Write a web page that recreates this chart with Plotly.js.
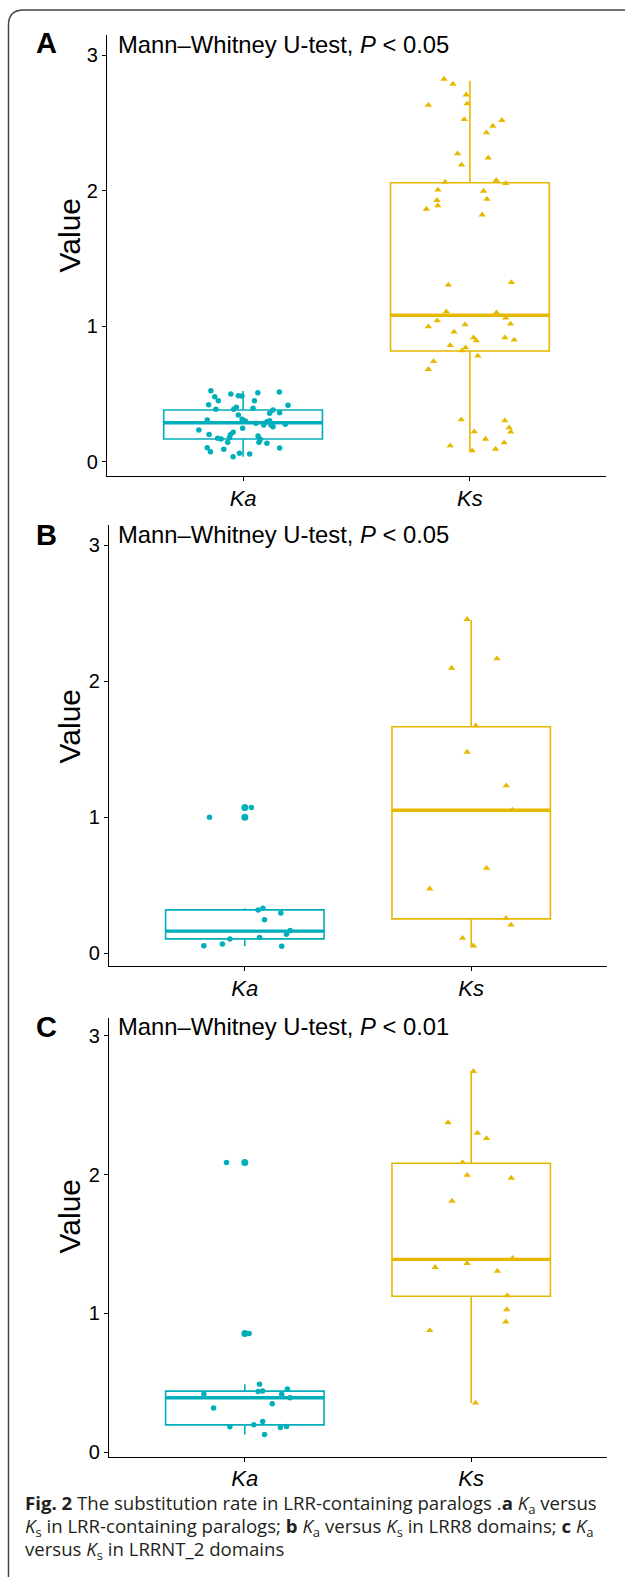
<!DOCTYPE html>
<html>
<head>
<meta charset="utf-8">
<script src="https://cdn.plot.ly/plotly-3.0.1.min.js"></script>
<style>html,body{margin:0;padding:0;background:#fff;}#chart{width:625px;height:1577px;}</style>
</head>
<body>
<div id="chart"></div>
<script>
// ---------- DATA ----------
const categories = ['Ka', 'Ks'];
const panelLabels = ['A', 'B', 'C'];
const testTitles = ['Mann–Whitney U-test, <i>P</i> &lt; 0.05', 'Mann–Whitney U-test, <i>P</i> &lt; 0.05', 'Mann–Whitney U-test, <i>P</i> &lt; 0.01'];
const yTicks = [0, 1, 2, 3];

// Panel A
const A_ka_jitter = [-0.142,-0.054,-0.021,-0.005,0.065,0.16,-0.125,-0.109,-0.152,-0.12,-0.03,-0.041,0.05,0.044,0.198,0.132,0.161,0.117,-0.021,-0.004,0.01,-0.158,0.057,0.091,0.105,0.117,0.123,0.132,0.186,-0.002,-0.195,-0.15,-0.044,-0.056,-0.112,-0.097,-0.06,-0.068,0.066,0.076,0.07,0.105,-0.158,-0.144,-0.085,0.161,-0.016,0.029,-0.044];
const A_ka_values = [0.522,0.498,0.486,0.483,0.508,0.513,0.478,0.449,0.419,0.385,0.400,0.385,0.449,0.393,0.415,0.380,0.360,0.356,0.343,0.311,0.299,0.306,0.282,0.269,0.294,0.301,0.269,0.257,0.275,0.245,0.232,0.200,0.215,0.198,0.171,0.166,0.176,0.142,0.188,0.164,0.142,0.134,0.102,0.072,0.090,0.100,0.060,0.055,0.035];
const A_ks_jitter = [-0.114,-0.075,-0.016,-0.183,-0.012,-0.025,0.141,0.101,0.073,-0.054,0.081,-0.037,-0.109,0.116,0.158,-0.141,0.06,-0.145,0.075,-0.142,-0.192,0.054,-0.095,0.183,-0.104,0.117,0.158,-0.144,-0.183,-0.021,0.179,-0.07,0.016,0.028,0.154,0.195,-0.087,-0.019,-0.035,0.035,-0.16,-0.183,-0.038,0.154,0.173,0.18,0.019,0.069,0.151,-0.087,0.113,0.01];
const A_ks_values = [2.823,2.786,2.707,2.631,2.641,2.525,2.518,2.476,2.427,2.272,2.242,2.190,2.063,2.075,2.053,2.004,1.996,1.928,1.937,1.888,1.863,1.821,1.303,1.322,1.106,1.098,1.061,1.039,0.995,1.010,1.015,0.956,0.914,0.892,0.914,0.897,0.857,0.840,0.818,0.779,0.739,0.680,0.309,0.301,0.250,0.218,0.220,0.166,0.139,0.117,0.092,0.080];
const A_q1 = [0.166, 0.816];
const A_median = [0.286, 1.079];
const A_q3 = [0.380, 2.058];
const A_lower = [0.035, 0.070];
const A_upper = [0.520, 2.810];
const A_ka_outliers = [];

// Panel B
const B_ka_jitter = [0.059,0.08,0.159,0.087,0.2,0.184,-0.066,0.065,-0.181,-0.099,0.163,-0.156,0.029];
const B_ka_values = [0.319,0.332,0.297,0.246,0.168,0.141,0.106,0.116,0.055,0.068,0.053,1.000,1.071];
const B_ks_jitter = [-0.018,0.114,-0.086,0.02,-0.018,0.155,0.182,0.068,-0.183,0.154,0.176,-0.038,0.01];
const B_ks_values = [2.454,2.165,2.096,1.673,1.479,1.232,1.054,0.626,0.474,0.258,0.209,0.111,0.055];
const B_q1 = [0.106, 0.253];
const B_median = [0.163, 1.051];
const B_q3 = [0.319, 1.665];
const B_lower = [0.053, 0.055];
const B_upper = [0.332, 2.449];
const B_ka_outliers = [1.071, 1.000];

// Panel C
const C_ka_jitter = [0.065,0.188,0.059,0.079,-0.181,0.163,0.2,0.121,-0.138,0.079,0.04,-0.066,0.157,0.184,0.087,-0.081,0.019];
const C_ka_values = [0.489,0.454,0.437,0.441,0.418,0.416,0.391,0.348,0.318,0.220,0.196,0.182,0.177,0.184,0.127,2.088,0.854];
const C_ks_jitter = [0.01,-0.102,0.028,0.068,-0.038,-0.018,0.177,-0.085,0.183,-0.018,-0.159,0.116,0.16,0.157,0.153,-0.183,0.019];
const C_ks_values = [2.745,2.375,2.299,2.261,2.088,1.996,1.975,1.809,1.398,1.361,1.332,1.304,1.127,1.027,0.939,0.877,0.354];
const C_q1 = [0.196, 1.123];
const C_median = [0.391, 1.389];
const C_q3 = [0.439, 2.082];
const C_lower = [0.127, 0.354];
const C_upper = [0.489, 2.745];
const C_ka_outliers = [2.088, 0.854];

// ---------- STYLE / LAYOUT ----------
const W = 625, H = 1577;
const FONT = 'Liberation Sans, Arial, Helvetica, sans-serif';
const CAPFONT = 'Open Sans, Noto Sans, sans-serif';
const COLORS = ['#00AFBB', '#E7B800'];
const BOXW = 0.7;
const px = p => p / W;
const py = p => 1 - p / H;

const panels = [
  {xa:'x',  ya:'y',  kaJ:A_ka_jitter, kaV:A_ka_values, ksJ:A_ks_jitter, ksV:A_ks_values, q1:A_q1, med:A_median, q3:A_q3, lo:A_lower, hi:A_upper, out:A_ka_outliers,
   xdom:[107,606], ydom:[35,476], yr:[-0.107,3.148], titleY:45, labelY:43, valueY:235},
  {xa:'x2', ya:'y2', kaJ:B_ka_jitter, kaV:B_ka_values, ksJ:B_ks_jitter, ksV:B_ks_values, q1:B_q1, med:B_median, q3:B_q3, lo:B_lower, hi:B_upper, out:B_ka_outliers,
   xdom:[109,607], ydom:[525,966], yr:[-0.093,3.147], titleY:534.5, labelY:535, valueY:726},
  {xa:'x3', ya:'y3', kaJ:C_ka_jitter, kaV:C_ka_values, ksJ:C_ks_jitter, ksV:C_ks_values, q1:C_q1, med:C_median, q3:C_q3, lo:C_lower, hi:C_upper, out:C_ka_outliers,
   xdom:[109,607], ydom:[1018,1456.5], yr:[-0.032,3.129], titleY:1026, labelY:1027, valueY:1216}
];

const traces = [];
const layout = {
  width: W, height: H,
  margin: {l:0, r:0, t:0, b:0},
  paper_bgcolor: '#fff', plot_bgcolor: '#fff',
  showlegend: false,
  font: {family: FONT, color: '#000'},
  annotations: [], shapes: []
};

panels.forEach((p, i) => {
  categories.forEach((c, k) => {
    traces.push({
      type: 'box', xaxis: p.xa, yaxis: p.ya,
      x: [k], q1: [p.q1[k]], median: [p.med[k]], q3: [p.q3[k]],
      lowerfence: [p.lo[k]], upperfence: [p.hi[k]],
      width: BOXW, whiskerwidth: 0, boxpoints: false,
      line: {color: COLORS[k], width: 1.6},
      fillcolor: 'rgba(255,255,255,0)', hoverinfo: 'skip'
    });
    traces.push({
      type: 'scatter', mode: 'lines', xaxis: p.xa, yaxis: p.ya,
      x: [k - BOXW/2, k + BOXW/2], y: [p.med[k], p.med[k]],
      line: {color: COLORS[k], width: 3.4}, hoverinfo: 'skip'
    });
  });
  if (p.out.length) {
    traces.push({
      type: 'scatter', mode: 'markers', xaxis: p.xa, yaxis: p.ya,
      x: p.out.map(() => 0), y: p.out,
      marker: {color: COLORS[0], size: 7, symbol: 'circle'}, hoverinfo: 'skip'
    });
  }
  traces.push({
    type: 'scatter', mode: 'markers', xaxis: p.xa, yaxis: p.ya,
    x: p.kaJ.map(j => 0 + j), y: p.kaV,
    marker: {color: COLORS[0], size: 5.5, symbol: 'circle'}, hoverinfo: 'skip'
  });
  traces.push({
    type: 'scatter', mode: 'markers', xaxis: p.xa, yaxis: p.ya,
    x: p.ksJ.map(j => 1 + j), y: p.ksV,
    marker: {color: COLORS[1], size: 6.5, symbol: 'triangle-up'}, hoverinfo: 'skip'
  });

  const xk = 'xaxis' + (i ? i + 1 : ''), yk = 'yaxis' + (i ? i + 1 : '');
  layout[xk] = {
    domain: [px(p.xdom[0]), px(p.xdom[1])], anchor: p.ya,
    range: [-0.6, 1.6], tickmode: 'array', tickvals: [0, 1],
    ticktext: categories.map(c => '<i>' + c + '</i>'),
    showline: true, linecolor: '#000', linewidth: 1.4,
    ticks: 'outside', ticklen: 4, tickwidth: 1.2, tickcolor: '#000',
    ticklabelstandoff: -2,
    showgrid: false, zeroline: false, fixedrange: true,
    tickfont: {family: FONT, size: 22, color: '#000'}
  };
  layout[yk] = {
    domain: [py(p.ydom[1]), py(p.ydom[0])], anchor: p.xa,
    range: p.yr, tickmode: 'array', tickvals: yTicks,
    showline: true, linecolor: '#000', linewidth: 1.4,
    ticks: 'outside', ticklen: 4, tickwidth: 1.2, tickcolor: '#000',
    showgrid: false, zeroline: false, fixedrange: true,
    tickfont: {family: FONT, size: 20, color: '#000'}
  };
  layout.annotations.push({
    xref: 'paper', yref: 'paper', x: px(116), y: py(p.titleY),
    xanchor: 'left', yanchor: 'middle', showarrow: false,
    text: testTitles[i], font: {family: FONT, size: 23.8, color: '#000'}
  });
  layout.annotations.push({
    xref: 'paper', yref: 'paper', x: px(46.5), y: py(p.labelY),
    xanchor: 'center', yanchor: 'middle', showarrow: false,
    text: '<b>' + panelLabels[i] + '</b>', font: {family: FONT, size: 29, color: '#000'}
  });
  layout.annotations.push({
    xref: 'paper', yref: 'paper', x: px(68.5), y: py(p.valueY),
    xanchor: 'center', yanchor: 'middle', showarrow: false, textangle: -90,
    text: 'Value', font: {family: FONT, size: 30, color: '#000'}
  });
});

// caption
const captionLines = [
  '<b>Fig. 2</b> The substitution rate in LRR-containing paralogs .<b>a</b> <i>K</i><sub>a</sub> versus',
  '<i>K</i><sub>s</sub> in LRR-containing paralogs; <b>b</b> <i>K</i><sub>a</sub> versus <i>K</i><sub>s</sub> in LRR8 domains; <b>c</b> <i>K</i><sub>a</sub>',
  'versus <i>K</i><sub>s</sub> in LRRNT_2 domains'
];
const captionY = [1504, 1527, 1550];
captionLines.forEach((t, i) => {
  layout.annotations.push({
    xref: 'paper', yref: 'paper', x: px(23), y: py(captionY[i]),
    xanchor: 'left', yanchor: 'middle', showarrow: false,
    text: t, font: {family: CAPFONT, size: 18.6, color: '#231F20'}
  });
});

// frame (rounded top-left corner)
const fx = 8.5, fy = 10, fr = 15;
layout.shapes.push({
  type: 'path', xref: 'paper', yref: 'paper',
  path: `M ${px(fx)},${py(H + 5)} L ${px(fx)},${py(fy + fr)} Q ${px(fx)},${py(fy)} ${px(fx + fr)},${py(fy)} L ${px(W + 5)},${py(fy)}`,
  line: {color: '#444', width: 1.5}
});

Plotly.newPlot('chart', traces, layout, {displayModeBar: false});
</script>
</body>
</html>
